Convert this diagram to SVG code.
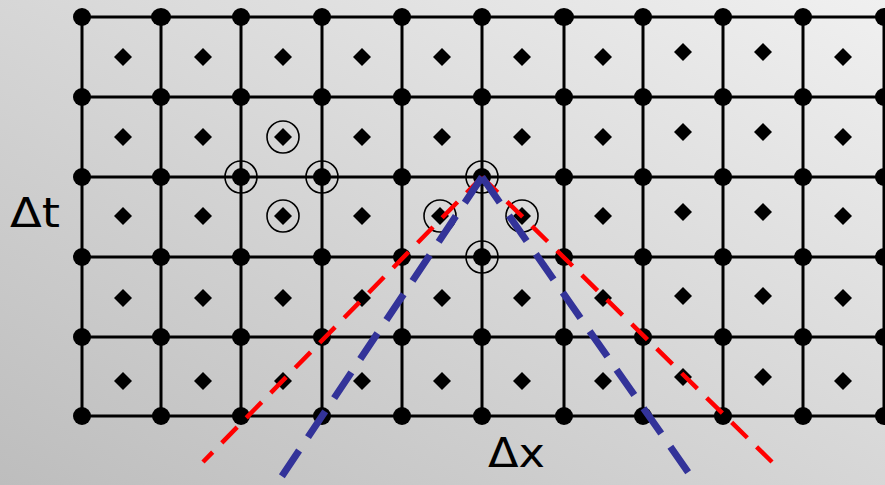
<svg xmlns="http://www.w3.org/2000/svg" width="885" height="485" viewBox="0 0 885 485">
<defs>
<linearGradient id="bg" x1="0" y1="1" x2="1" y2="0">
<stop offset="0" stop-color="#bdbdbd"/>
<stop offset="1" stop-color="#f0f0f0"/>
</linearGradient>
<path id="dm" d="M0,-9 L9,0 L0,9 L-9,0 Z"/>
</defs>
<style>
.grid{stroke:#000;stroke-width:3;fill:none}
.dot{fill:#000}
.dm{fill:#000}
.ring{fill:none;stroke:#000;stroke-width:1.6}
.red{stroke:#ff0000;stroke-width:4.5;stroke-dasharray:22 13;fill:none}
.blue{stroke:#333399;stroke-width:7;stroke-dasharray:31 16;fill:none}
.lbl{font-family:"DejaVu Sans","Liberation Sans",sans-serif;font-size:40px;fill:#000}
</style>
<rect width="885" height="485" fill="url(#bg)"/>
<g id="grid" class="grid">
<path d="M82,17H885M82,97H885M82,177H885M82,257H885M82,337H885M82,416H885"/>
<path d="M82,17V416M161,17V416M241,17V416M322,17V416M402,17V416M482,17V416M564,17V416M643,17V416M723,17V416M803,17V416M884,17V416"/>
</g>
<g id="nodes" class="dot">
<g id="row0"><ellipse cx="82" cy="17" rx="9" ry="9"/><ellipse cx="161" cy="17" rx="10" ry="9"/><ellipse cx="241" cy="17" rx="9" ry="9"/><ellipse cx="322" cy="17" rx="9" ry="9"/><ellipse cx="402" cy="17" rx="9" ry="9"/><ellipse cx="482" cy="17" rx="9" ry="9"/><ellipse cx="564" cy="17" rx="10" ry="9"/><ellipse cx="643" cy="17" rx="9" ry="9"/><ellipse cx="723" cy="17" rx="9" ry="9"/><ellipse cx="803" cy="17" rx="9" ry="9"/><ellipse cx="884" cy="17" rx="9" ry="9"/></g>
<g id="row1"><circle cx="82" cy="97" r="9"/><circle cx="161" cy="97" r="9"/><circle cx="241" cy="97" r="9"/><circle cx="322" cy="97" r="9"/><circle cx="402" cy="97" r="9"/><circle cx="482" cy="97" r="9"/><circle cx="564" cy="97" r="9"/><circle cx="643" cy="97" r="9"/><circle cx="723" cy="97" r="9"/><circle cx="803" cy="97" r="9"/><circle cx="884" cy="97" r="9"/></g>
<g id="row2"><circle cx="82" cy="177" r="9"/><circle cx="161" cy="177" r="9"/><circle cx="241" cy="177" r="9"/><circle cx="322" cy="177" r="9"/><circle cx="402" cy="177" r="9"/><circle cx="482" cy="177" r="9"/><circle cx="564" cy="177" r="9"/><circle cx="643" cy="177" r="9"/><circle cx="723" cy="177" r="9"/><circle cx="803" cy="177" r="9"/><circle cx="884" cy="177" r="9"/></g>
<g id="row3"><circle cx="82" cy="257" r="9"/><circle cx="161" cy="257" r="9"/><circle cx="241" cy="257" r="9"/><circle cx="322" cy="257" r="9"/><circle cx="402" cy="257" r="9"/><circle cx="482" cy="257" r="9"/><circle cx="564" cy="257" r="9"/><circle cx="643" cy="257" r="9"/><circle cx="723" cy="257" r="9"/><circle cx="803" cy="257" r="9"/><circle cx="884" cy="257" r="9"/></g>
<g id="row4"><circle cx="82" cy="337" r="9"/><circle cx="161" cy="337" r="9"/><circle cx="241" cy="337" r="9"/><circle cx="322" cy="337" r="9"/><circle cx="402" cy="337" r="9"/><circle cx="482" cy="337" r="9"/><circle cx="564" cy="337" r="9"/><circle cx="643" cy="337" r="9"/><circle cx="723" cy="337" r="9"/><circle cx="803" cy="337" r="9"/><circle cx="884" cy="337" r="9"/></g>
<g id="row5"><circle cx="82" cy="416" r="9"/><circle cx="161" cy="416" r="9"/><circle cx="241" cy="416" r="9"/><circle cx="322" cy="416" r="9"/><circle cx="402" cy="416" r="9"/><circle cx="482" cy="416" r="9"/><circle cx="564" cy="416" r="9"/><circle cx="643" cy="416" r="9"/><circle cx="723" cy="416" r="9"/><circle cx="803" cy="416" r="9"/><circle cx="884" cy="416" r="9"/></g>
</g>
<g id="cells" class="dm">
<use href="#dm" x="123" y="57"/><use href="#dm" x="203" y="57"/><use href="#dm" x="283" y="57"/><use href="#dm" x="362" y="57"/><use href="#dm" x="442" y="57"/><use href="#dm" x="522" y="57"/><use href="#dm" x="603" y="57"/><use href="#dm" x="683" y="52"/><use href="#dm" x="763" y="52"/><use href="#dm" x="843" y="57"/>
<use href="#dm" x="123" y="137"/><use href="#dm" x="203" y="137"/><use href="#dm" x="283" y="137"/><use href="#dm" x="362" y="137"/><use href="#dm" x="442" y="137"/><use href="#dm" x="522" y="137"/><use href="#dm" x="603" y="137"/><use href="#dm" x="683" y="132"/><use href="#dm" x="763" y="132"/><use href="#dm" x="843" y="137"/>
<use href="#dm" x="123" y="216"/><use href="#dm" x="203" y="216"/><use href="#dm" x="283" y="216"/><use href="#dm" x="362" y="216"/><use href="#dm" x="440" y="216"/><use href="#dm" x="522" y="216"/><use href="#dm" x="603" y="216"/><use href="#dm" x="683" y="212"/><use href="#dm" x="763" y="212"/><use href="#dm" x="843" y="216"/>
<use href="#dm" x="123" y="298"/><use href="#dm" x="203" y="298"/><use href="#dm" x="283" y="298"/><use href="#dm" x="362" y="298"/><use href="#dm" x="442" y="298"/><use href="#dm" x="522" y="298"/><use href="#dm" x="603" y="298"/><use href="#dm" x="683" y="296"/><use href="#dm" x="763" y="296"/><use href="#dm" x="843" y="298"/>
<use href="#dm" x="123" y="381"/><use href="#dm" x="203" y="381"/><use href="#dm" x="283" y="381"/><use href="#dm" x="362" y="381"/><use href="#dm" x="442" y="381"/><use href="#dm" x="522" y="381"/><use href="#dm" x="603" y="381"/><use href="#dm" x="683" y="377"/><use href="#dm" x="763" y="377"/><use href="#dm" x="843" y="381"/>
</g>
<g id="stencil1" class="ring">
<circle cx="283" cy="137" r="16"/><circle cx="241" cy="177" r="16"/><circle cx="322" cy="177" r="16"/><circle cx="283" cy="216" r="16"/>
</g>
<g id="stencil2" class="ring">
<circle cx="482" cy="177" r="16"/><circle cx="440" cy="216" r="16"/><circle cx="522" cy="216" r="16"/><circle cx="482" cy="257" r="16"/>
</g>
<g id="connectors">
<path class="red" d="M482,177 L203,462"/>
<path class="red" d="M482,177 L772,462"/>
<path class="blue" d="M482,177 L278,482"/>
<path class="blue" d="M482,177 L695,482"/>
</g>
<text class="lbl" x="10" y="227" textLength="50" lengthAdjust="spacingAndGlyphs">Δt</text>
<text class="lbl" x="488" y="467" textLength="57" lengthAdjust="spacingAndGlyphs">Δx</text>
</svg>
